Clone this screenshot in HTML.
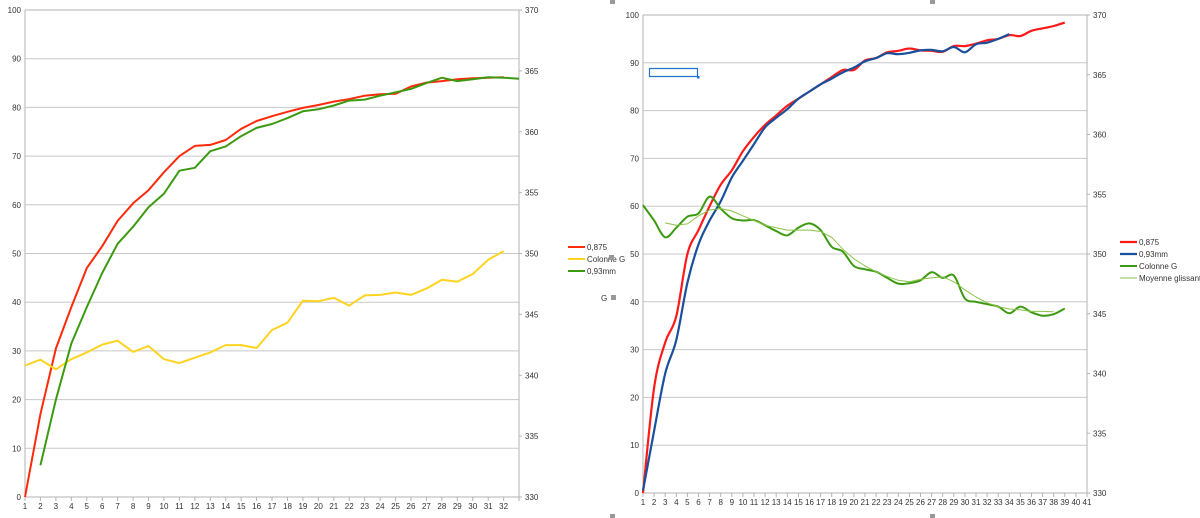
<!DOCTYPE html>
<html><head><meta charset="utf-8"><style>
html,body{margin:0;padding:0;background:#fff;width:1200px;height:518px;overflow:hidden}
svg{display:block;font-family:"Liberation Sans",sans-serif}
</style></head><body>
<svg id="s" width="1200" height="518" xmlns="http://www.w3.org/2000/svg"></svg>
<script>
const S=document.getElementById('s');let h='';
function cr(pts){let d='M'+pts[0][0].toFixed(1)+','+pts[0][1].toFixed(1);
for(let i=0;i<pts.length-1;i++){const p0=pts[i-1]||pts[i],p1=pts[i],p2=pts[i+1],p3=pts[i+2]||p2;
const c1=[p1[0]+(p2[0]-p0[0])/6,p1[1]+(p2[1]-p0[1])/6],c2=[p2[0]-(p3[0]-p1[0])/6,p2[1]-(p3[1]-p1[1])/6];
d+='C'+c1.map(v=>v.toFixed(1))+' '+c2.map(v=>v.toFixed(1))+' '+p2.map(v=>v.toFixed(1));}return d;}
function poly(pts){return 'M'+pts.map(p=>p[0].toFixed(1)+','+p[1].toFixed(1)).join('L');}
function chart(o){
const X=i=>o.x0+(i-1)*o.step, Y=v=>o.y0-(v/100)*(o.y0-o.y100);
for(let v=0;v<=100;v+=10){const y=Y(v);h+=`<line x1="${o.x0}" x2="${o.xr}" y1="${y}" y2="${y}" stroke="${v==0||v==100?'#b3b3b3':'#c8c8c8'}" stroke-width="1"/>`;
h+=`<text x="${o.x0-4}" y="${y+3}" font-size="8" text-anchor="end" fill="#333">${v}</text>`;
h+=`<text x="${o.xr+4}" y="${y+3}" font-size="8" fill="#333">${v%20==0?'':''}</text>`;}
for(let k=0;k<=8;k++){const v=k*12.5,y=Y(v);h+=`<line x1="${o.xr}" x2="${o.xr+3}" y1="${y}" y2="${y}" stroke="#b3b3b3"/><text x="${o.xr+6}" y="${y+3}" font-size="8" fill="#333">${330+k*5}</text>`;}
h+=`<line x1="${o.x0}" x2="${o.x0}" y1="${Y(100)}" y2="${Y(0)}" stroke="#b3b3b3"/><line x1="${o.xr}" x2="${o.xr}" y1="${Y(100)}" y2="${Y(0)+4}" stroke="#b3b3b3"/>`;
for(let i=1;i<=o.n;i++){const x=X(i);h+=`<line x1="${x}" x2="${x}" y1="${Y(0)}" y2="${Y(0)+4}" stroke="#b3b3b3"/>`;
if(i<=o.nl)h+=`<text x="${x}" y="${Y(0)+12}" font-size="8" text-anchor="middle" fill="#333">${i}</text>`;}
for(const s of o.series){const pts=s.d.map(([i,v])=>[X(i),Y(v)]);
h+=`<path d="${s.smooth?cr(pts):poly(pts)}" fill="none" stroke="${s.c}" stroke-width="${s.w}" stroke-linejoin="round"/>`;}
let ly=o.ly;for(const s of o.series){h+=`<line x1="${o.lx}" x2="${o.lx+17}" y1="${ly}" y2="${ly}" stroke="${s.c}" stroke-width="${s.w}"/><text x="${o.lx+19}" y="${ly+3}" font-size="8" fill="#333">${s.n}</text>`;ly+=12;}
}
const seq=(st,a)=>a.map((v,k)=>[st+k,v]);
chart({x0:25,xr:519,step:15.44,y0:497,y100:10,n:33,nl:32,lx:568,ly:247,series:[
{n:'0,875',c:'#ff2a0a',w:2,d:seq(1,[0,17,30.5,39,47,51.5,56.7,60.3,63,66.7,70,72.1,72.3,73.3,75.6,77.2,78.2,79.1,79.9,80.5,81.2,81.7,82.4,82.7,82.8,84.3,85.1,85.4,85.8,86,86.1,86.2])},
{n:'Colonne G',c:'#ffd320',w:2,d:seq(1,[27,28.2,26.2,28.3,29.7,31.3,32.1,29.8,31,28.3,27.5,28.6,29.7,31.2,31.2,30.6,34.3,35.8,40.3,40.2,40.9,39.3,41.4,41.5,42,41.5,42.8,44.6,44.2,45.8,48.7,50.5])},
{n:'0,93mm',c:'#3c9a10',w:2,d:seq(2,[6.5,20,31.5,39,46,52,55.5,59.5,62.3,67,67.6,71,72,74.1,75.8,76.6,77.8,79.2,79.6,80.4,81.4,81.6,82.4,83.1,83.8,85,86.1,85.4,85.8,86.2,86.1,85.9])}]});
chart({x0:643,xr:1087,step:11.1,y0:493,y100:15,n:41,nl:41,lx:1120,ly:242,series:[
{n:'0,875',c:'#ff1a1a',w:2.2,smooth:1,d:seq(1,[0,22,31.5,37,50,55,60,64.5,67.5,71.5,74.5,77,79,81,82.5,84,85.5,87,88.5,88.5,90.5,91,92.2,92.5,93,92.6,92.5,92.3,93.5,93.5,94,94.7,95,95.8,95.6,96.7,97.2,97.7,98.4])},
{n:'0,93mm',c:'#1a4f9c',w:2.2,smooth:1,d:seq(1,[0.5,13,25,32,44,52,57,61,66,69.5,73,76.5,78.5,80.3,82.5,84,85.5,86.7,88,89,90.3,91,92,91.8,92.1,92.6,92.7,92.4,93.3,92.2,93.9,94.2,95,96])},
{n:'Colonne G',c:'#3c9a10',w:2,smooth:1,d:seq(1,[60.2,57,53.5,55.5,57.8,58.5,62,59.5,57.5,57,57.1,56,54.8,53.9,55.5,56.4,55,51.5,50.5,47.5,46.8,46.3,45,43.8,43.9,44.5,46.2,45,45.5,40.7,40,39.5,39,37.6,39,37.8,37.1,37.4,38.6])},
{n:'Moyenne glissante',c:'#8bc34a',w:1,d:seq(3,[56.5,56,56.3,58,59.2,59.5,59,58,57,56,55.5,55,55,55,54.7,53.5,51,49,47.5,46.3,45.3,44.5,44.2,44.7,45,45.2,44.2,42.5,41,39.8,39,38.5,38.3,38,38,37.9])}]});
h+=`<rect x="649.5" y="68.5" width="48" height="8" fill="none" stroke="#1a73d0" stroke-width="1.2"/><rect x="697" y="76" width="2.5" height="2.5" fill="#1a73d0"/>`;
h+=`<rect x="609" y="255" width="5" height="5" fill="#999"/><text x="601" y="301" font-size="8" fill="#333">G</text><rect x="611" y="295" width="5" height="5" fill="#999"/>`;
for(const [x,y] of [[610,0],[930,0],[610,514],[930,514]])h+=`<rect x="${x}" y="${y}" width="5" height="4" fill="#999"/>`;
S.innerHTML=h;
</script>
</body></html>
